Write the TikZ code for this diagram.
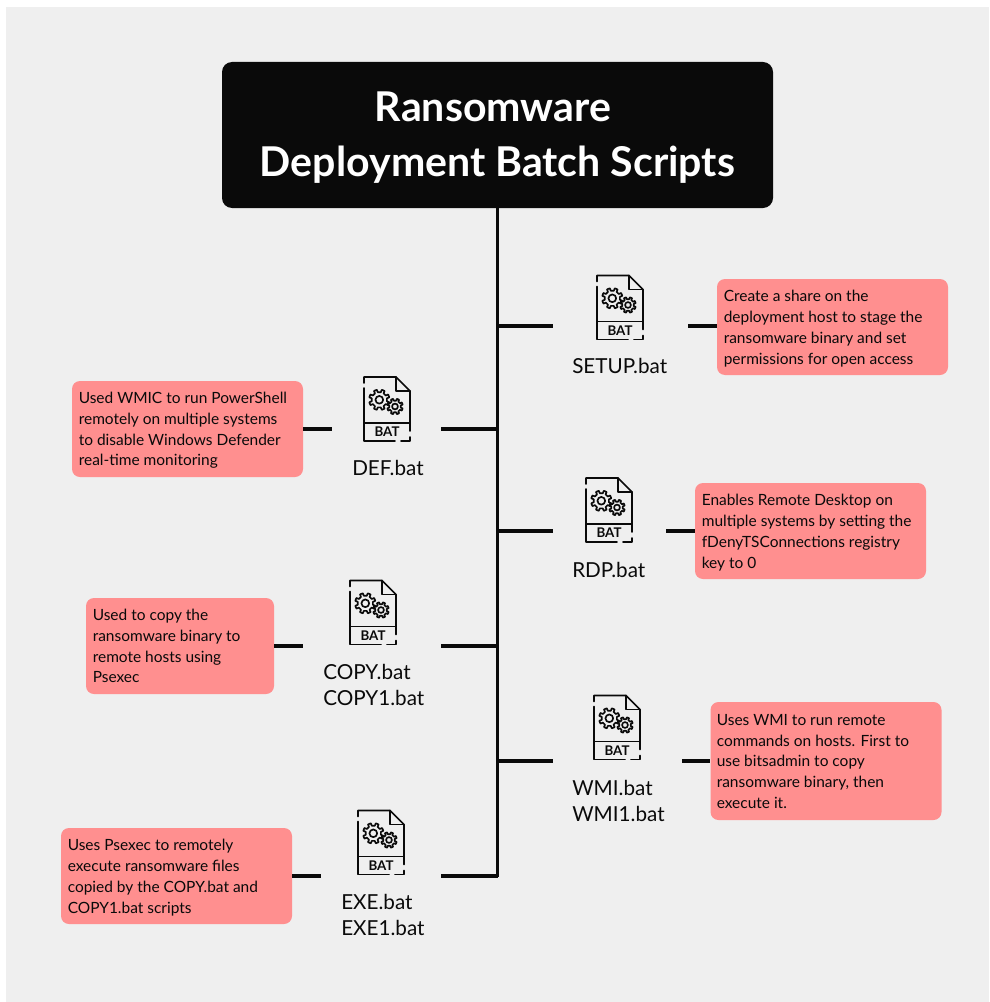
\documentclass[tikz,border=0pt]{standalone}
\usepackage{fontspec}
\setmainfont{Lato}
\definecolor{bgc}{HTML}{EFEFEF}
\definecolor{notec}{HTML}{FF8F8F}
\definecolor{inkc}{HTML}{0A0A0A}
\tikzset{
  wire/.style={draw=inkc,line width=2.4pt},
  group/.style={inner sep=0pt,minimum height=20pt},
  note/.style={fill=notec,rounded corners=6pt,inner sep=0pt},
  notetext/.style={align=left,anchor=west,font=\fontsize{11.6}{15.6}\selectfont,text=inkc,inner sep=0pt},
  file/.style={align=left,anchor=north west,font=\fontsize{15.5}{19.5}\selectfont,text=inkc,inner sep=0pt},
  iconline/.style={draw=inkc,line width=1.25pt,line cap=round,line join=round},
  iconlabel/.style={font=\fontsize{10}{10}\selectfont\bfseries,text=inkc,inner sep=0pt},
  title/.style={fill=inkc,rounded corners=7.5pt,inner sep=0pt},
  titletext/.style={text=white,align=center,inner sep=0pt,font=\fontsize{30.8}{41}\selectfont\bfseries}
}
\newcommand{\gearshape}[3]{% cx cy r
  \draw[iconline] (#1,#2) ++(-11:#3)
  \foreach \k in {0,45,...,315}{
    -- ([shift={(#1,#2)}]\k+11:#3*1.0)
    -- ([shift={(#1,#2)}]\k+14:#3*1.34)
    -- ([shift={(#1,#2)}]\k+31:#3*1.34)
    -- ([shift={(#1,#2)}]\k+34:#3*1.0)
  } -- cycle;
  \draw[iconline] (#1,#2) circle ({#3*0.5});
}
\newcommand{\baticon}[3]{%
\begin{scope}[shift={(#1,#2)}]
  \draw[iconline] (-23,-26) -- (-23,-32) -- (9,-32) -- (23,-18) -- (23,22);
  \draw[iconline] (23,28) -- (23,32) -- (14,32);
  \draw[iconline] (8,32) -- (-23,32) -- (-23,-21);
  \draw[iconline] (9,-32) -- (9,-18) -- (23,-18);
  \draw[iconline] (-23,14) -- (23,14);
  \gearshape{-7.7}{-9.2}{7.7}
  \gearshape{8}{-2.5}{5.9}
  \node[iconlabel] (#3) at (0,23) {BAT};
\end{scope}}
\begin{document}
\begin{tikzpicture}[x=0.75pt,y=-0.75pt]
\useasboundingbox (0,0) rectangle (989,1002);
\fill[white] (0,0) rectangle (989,1002);
\fill[bgc] (6,7) rectangle (989,1002);

\node[title,minimum width=413.25pt,minimum height=109.5pt] (head) at (497.5,135) {};
\node[titletext] (headtext) at (497.5,137.5) {Ransomware\hspace*{6.75pt}\\Deployment Batch Scripts};

% invisible groups: icon with file name
\node[group,minimum width=101.25pt] (setup) at (620.5,326) {};
\node[group,minimum width=84.75pt]  (rdp)   at (609.5,531) {};
\node[group,minimum width=96.75pt]  (wmi)   at (617.5,761) {};
\node[group,minimum width=81.75pt]  (def)   at (386.5,429) {};
\node[group,minimum width=103.5pt]  (copy)  at (372,646) {};
\node[group,minimum width=90pt]     (exe)   at (381,876) {};

% trunk
\coordinate (tail) at (497.5,877.2);
\draw[wire] (head.south) -- (tail);
\coordinate (t1) at (head.south |- setup);
\coordinate (t2) at (head.south |- rdp);
\coordinate (t3) at (head.south |- wmi);
\coordinate (t4) at (head.south |- def);
\coordinate (t5) at (head.south |- copy);
\coordinate (t6) at (head.south |- exe);
\draw[wire] (t1) -- (setup.west);
\draw[wire] (t2) -- (rdp.west);
\draw[wire] (t3) -- (wmi.west);
\draw[wire] (t4) -- (def.east);
\draw[wire] (t5) -- (copy.east);
\draw[wire] (t6) -- (exe.east);

% notes
\node[note,minimum width=173.25pt,minimum height=72pt] (nsetup) at (832.5,327) {};
\node[notetext] (xsetup) at (723.5,328.5) {Create a share on the\\deployment host to stage the\\ransomware binary and set\\permissions for open access};
\node[note,minimum width=173.25pt,minimum height=72pt] (nrdp) at (810.5,531) {};
\node[notetext] (xrdp) at (701.5,532.5) {Enables Remote Desktop on\\multiple systems by setting the\\fDenyTSConnections registry\\key to 0};
\node[note,minimum width=173.25pt,minimum height=88.5pt] (nwmi) at (826,761) {};
\node[notetext] (xwmi) at (716.5,761.5) {Uses WMI to run remote\\commands on hosts. First to\\use bitsadmin to copy\\ransomware binary, then\\execute it.};
\node[note,minimum width=173.25pt,minimum height=72pt] (ndef) at (187.5,429) {};
\node[notetext] (xdef) at (78.5,430.5) {Used WMIC to run PowerShell\\remotely on multiple systems\\to disable Windows Defender\\real-time monitoring};
\node[note,minimum width=141pt,minimum height=72pt] (ncopy) at (180,646) {};
\node[notetext] (xcopy) at (92.5,646) {Used to copy the\\ransomware binary to\\remote hosts using\\Psexec};
\node[note,minimum width=173.25pt,minimum height=72pt] (nexe) at (176.5,876) {};
\node[notetext] (xexe) at (67.5,877.5) {Uses Psexec to remotely\\execute ransomware files\\copied by the COPY.bat and\\COPY1.bat scripts};

\draw[wire] (setup.east) -- (nsetup.west |- setup.east);
\draw[wire] (rdp.east) -- (nrdp.west);
\draw[wire] (wmi.east) -- (nwmi.west);
\draw[wire] (def.west) -- (ndef.east);
\draw[wire] (copy.west) -- (ncopy.east);
\draw[wire] (exe.west) -- (nexe.east);

% icons and file names
\baticon{620}{307.5}{bsetup}
\baticon{609}{510}{brdp}
\baticon{617}{727.5}{bwmi}
\baticon{387}{409}{bdef}
\baticon{373}{612.5}{bcopy}
\baticon{381}{842.5}{bexe}
\node[file] (lsetup) at (572,358.5) {SETUP.bat};
\node[file] (lrdp) at (572,562.5) {RDP.bat};
\node[file] (lwmi) at (572,780.5) {WMI.bat\\WMI1.bat};
\node[file] (ldef) at (352,460.5) {DEF.bat};
\node[file] (lcopy) at (323,664.5) {COPY.bat\\COPY1.bat};
\node[file] (lexe) at (341,894.5) {EXE.bat\\EXE1.bat};
\end{tikzpicture}
\end{document}
